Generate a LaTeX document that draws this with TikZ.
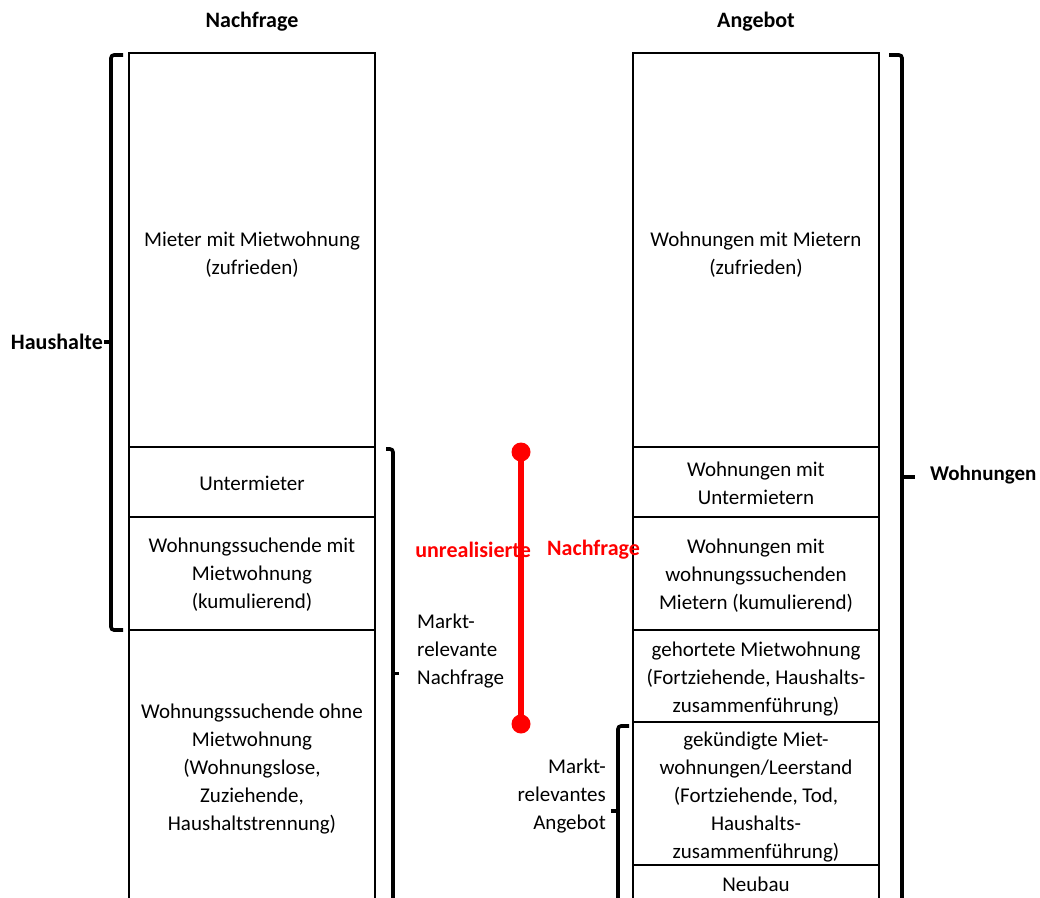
\documentclass[tikz,border=0pt]{standalone}
\usepackage{fontspec}
\setmainfont{Carlito}
\begin{document}
\begin{tikzpicture}[x=1pt,y=-1pt,
  box/.style={line width=1.8pt},
  brk/.style={line width=3.6pt,rounded corners=3pt},
  cell/.style={align=center,font=\fontsize{21}{28}\selectfont,inner sep=0pt},
  lbl/.style={font=\fontsize{21}{28}\selectfont,inner sep=0pt},
  head/.style={font=\bfseries\fontsize{22}{24}\selectfont,inner sep=0pt},
  dot/.style={circle,fill=red,inner sep=0pt,minimum size=19pt}]
\useasboundingbox (0,0) rectangle (1040,897);
% left column
\draw[box] (129,900) -- (129,53) -- (375,53) -- (375,900);
\draw[box] (129,447) -- (375,447);
\draw[box] (129,517) -- (375,517);
\draw[box] (129,630) -- (375,630);
% right column
\draw[box] (633,900) -- (633,53) -- (879,53) -- (879,900);
\foreach \yy in {447,517,630,722,865} \draw[box] (633,\yy) -- (879,\yy);
% headers
\node[head] (hn) at (252,22) {Nachfrage};
\node[head] (ha) at (756,22) {Angebot};
% left cells
\node[cell] (l1) at (252,255) {Mieter mit Mietwohnung\\(zufrieden)};
\node[cell] (l2) at (252,483) {Untermieter};
\node[cell] (l3) at (252,575) {Wohnungssuchende mit\\Mietwohnung\\(kumulierend)};
\node[cell] (l4) at (252,769) {Wohnungssuchende ohne\\Mietwohnung\\(Wohnungslose,\\Zuziehende,\\Haushaltstrennung)};
% right cells
\node[cell] (r1) at (756,255) {Wohnungen mit Mietern\\(zufrieden)};
\node[cell] (r2) at (756,483) {Wohnungen mit\\Untermietern};
\node[cell] (r3) at (756,576) {Wohnungen mit\\wohnungssuchenden\\Mietern (kumulierend)};
\node[cell] (r4) at (756,679) {gehortete Mietwohnung\\(Fortziehende, Haushalts-\\zusammenführung)};
\node[cell] (r5) at (756,797) {gekündigte Miet-\\wohnungen/Leerstand\\(Fortziehende, Tod,\\Haushalts-\\zusammenführung)};
\node[cell] (r6) at (756,884) {Neubau};
% brackets
\coordinate (hb) at (104,342);
\draw[brk] (123,55) -- (111,55) -- (111,630) -- (123,630);
\draw[line width=3.6pt] (111,342) -- (hb);
\node[head,anchor=east] (hh) at (103,342) {Haushalte};
\draw[brk] (386,449) -- (393,449) -- (393,905);
\coordinate (mb) at (399,673);
\draw[line width=3pt] (393,673) -- (mb);
\node[lbl,anchor=north west,align=left] (mn) at (417,614) {Markt-\\relevante\\Nachfrage};
\draw[brk] (629,726) -- (618,726) -- (618,905);
\coordinate (ab) at (611,811);
\draw[line width=3.6pt] (618,811) -- (ab);
\node[lbl,anchor=north east,align=right] (an) at (606,759) {Markt-\\relevantes\\Angebot};
\draw[brk] (889,55) -- (902,55) -- (902,905);
\coordinate (wb) at (915,477);
\draw[line width=3.6pt] (902,477) -- (wb);
\node[head,anchor=west,font=\bfseries\fontsize{21}{24}\selectfont] (wh) at (930,475) {Wohnungen};
% red line
\node[dot] (d1) at (521,452) {};
\node[dot] (d2) at (521,724) {};
\draw[red,line width=6pt] (d1.center) -- (d2.center);
\node[head,text=red,anchor=east] (u1) at (531,550) {unrealisierte};
\node[head,text=red,anchor=west] (u2) at (547,550) {Nachfrage};
\end{tikzpicture}
\end{document}
